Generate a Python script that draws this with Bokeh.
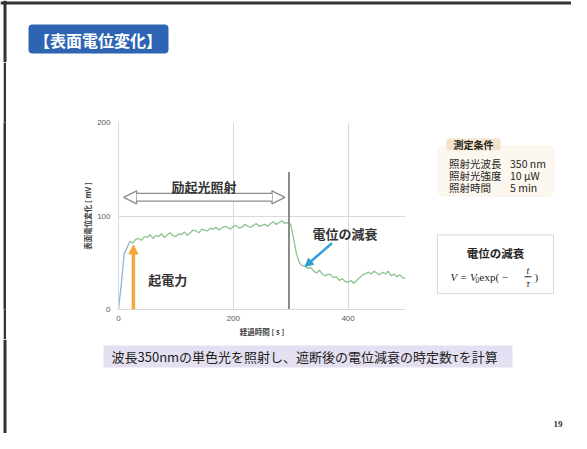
from bokeh.plotting import figure
from bokeh.layouts import column, row
from bokeh.models import Range1d, Label, BoxAnnotation, Arrow, NormalHead, FixedTicker
from bokeh.embed import file_html
from bokeh.resources import INLINE

# ---- data ----
time_s = list(range(0, 505, 5))
voltage_mv = [
    0, 28, 60, 66, 73, 71, 75, 76, 74, 78,
    77, 80, 76, 79, 78, 81, 77, 80, 82, 79,
    78, 81, 80, 83, 79, 82, 85, 84, 82, 86,
    85, 84, 87, 86, 88, 85, 87, 89, 88, 86,
    89, 90, 87, 88, 91, 89, 88, 90, 92, 89,
    90, 91, 89, 92, 94, 91, 93, 95, 92, 93,
    91, 76, 60, 50, 47, 46, 44, 45, 41, 39,
    42, 38, 36, 38, 37, 34, 35, 31, 33, 30,
    29, 31, 28, 31, 34, 37, 38, 40, 38, 41,
    39, 37, 40, 38, 41, 36, 38, 35, 37, 34,
    33,
]
x_ticks = [0, 200, 400]
y_ticks = [0, 100, 200]
light_off_s = 297
light_arrow_span = [9, 290]
light_arrow_level = 120
emf_arrow = [26, 0, 69]            # x, y_start, y_end
decay_arrow = [372, 71, 325, 46]   # x0, y0, x1, y1

title_text = "【表面電位変化】"
x_title = "経過時間 [ s ]"
y_title = "表面電位変化 [ mV ]"
cond_title = "測定条件"
cond_rows = [("照射光波長", "350 nm"), ("照射光強度", "10 μW"), ("照射時間", "5 min")]
formula_title = "電位の減衰"
banner_text = "波長350nmの単色光を照射し、遮断後の電位減衰の時定数τを計算"
page_no = "19"

JP = "Noto Sans CJK JP"
SERIF = "Liberation Serif"
TXT = "#262626"
FRAME_DARK = "#333333"

ROW_TOP, ROW_H = 62, 277
MB_TOP, MB_BOTTOM = 60, 29     # chart frame: page y 122..310


def bare_figure(w, h, fill="white", **kw):
    f = figure(width=w, height=h, x_axis_type=None, y_axis_type=None, output_backend="svg",
               toolbar_location=None, **kw)
    f.outline_line_color = None
    f.background_fill_color = fill
    f.border_fill_color = fill
    return f


class Panel:
    """A decoration figure whose frame spans page box (ox, fy0)-(ox+w, fy1)."""
    def __init__(self, ox, oy, w, h, mt=0, mb=0):
        self.ox = ox
        self.fy0 = oy + mt
        self.fh = h - mt - mb
        self.fig = bare_figure(w, h, x_range=Range1d(0, w), y_range=Range1d(0, self.fh),
                               min_border_left=0, min_border_right=0,
                               min_border_top=mt, min_border_bottom=mb)

    def box(self, l, t, r, b, **kw):
        kw.setdefault("fill_alpha", 1)
        kw.setdefault("line_color", None)
        self.fig.add_layout(BoxAnnotation(left=l - self.ox, right=r - self.ox,
                                          top=self.fh - (t - self.fy0), bottom=self.fh - (b - self.fy0), **kw))

    def text(self, x, y, s, **kw):
        kw.setdefault("text_baseline", "middle")
        kw.setdefault("text_color", TXT)
        self.fig.add_layout(Label(x=x - self.ox, y=self.fh - (y - self.fy0), text=s, **kw))


top = Panel(0, 0, 571, ROW_TOP)
top.box(0, 1, 571, 4, fill_color=FRAME_DARK)
top.box(3, 0, 6, ROW_TOP, fill_color=FRAME_DARK)
top.box(28, 24, 168, 53, fill_color="#2d65b3", border_radius=4)
top.text(97.5, 39, title_text, text_align="center", text_font=JP, text_font_size="16px",
         text_font_style="bold", text_color="white")

strip_white = bare_figure(3, ROW_H, min_border=0)
strip_dark = bare_figure(3, ROW_H, fill=FRAME_DARK, min_border=0)

right = Panel(412, ROW_TOP, 159, ROW_H, mt=MB_TOP, mb=MB_BOTTOM)
right.box(438, 146, 553, 196, fill_color="#fdf8ef", line_color="#efdfc3", line_width=1.2, border_radius=6)
right.box(446, 138, 500, 150, fill_color="#f3e3c8", border_radius=2)
right.text(473, 144, cond_title, text_align="center", text_font=JP, text_font_size="10px",
           text_font_style="bold")
for i, (k, v) in enumerate(cond_rows):
    yy = 163 + i * 12
    right.text(448.5, yy, k, text_font=JP, text_font_size="10.5px")
    right.text(509.5, yy, v, text_font=JP, text_font_size="10.5px")

right.box(437, 235, 553, 294, fill_color="white", line_color="#808080", line_width=1)
right.text(495, 253, formula_title, text_align="center", text_font=JP, text_font_size="11.5px",
           text_font_style="bold")
right.text(450, 277, "V = V", text_font=SERIF, text_font_size="11px", text_font_style="italic")
right.text(475, 280, "0", text_font=SERIF, text_font_size="7.5px", text_font_style="italic")
right.text(479, 277, "exp( −", text_font=SERIF, text_font_size="11px")
right.text(527.5, 270.5, "t", text_align="center", text_font=SERIF, text_font_size="10px", text_font_style="italic")
right.box(524, 276.5, 531, 277.5, fill_color=TXT)
right.text(527.5, 283.5, "τ", text_align="center", text_font=SERIF, text_font_size="10px", text_font_style="italic")
right.text(534, 277, ")", text_font=SERIF, text_font_size="11px")

bottom = Panel(0, ROW_TOP + ROW_H, 571, 433 - ROW_TOP - ROW_H)
bottom.box(3, 339, 6, 433, fill_color=FRAME_DARK)
bottom.box(103, 345, 512, 367, fill_color="#e5e0f1")
bottom.text(111, 356, banner_text, text_font=JP, text_font_size="13px", text_color="#222222")
bottom.text(557.5, 423, page_no, text_align="center", text_font=SERIF, text_font_size="9px",
            text_font_style="bold", text_color="#333333")

# ---------- the chart ----------
p = figure(width=406, height=ROW_H, x_range=Range1d(0, 500), y_range=Range1d(0, 200),
           output_backend="svg", toolbar_location=None,
           min_border_left=112, min_border_right=7, min_border_top=MB_TOP, min_border_bottom=MB_BOTTOM)
p.outline_line_color = None
p.background_fill_color = "white"
p.border_fill_color = "white"

p.xaxis.ticker = FixedTicker(ticks=x_ticks)
p.yaxis.ticker = FixedTicker(ticks=y_ticks)
for ax in (p.xaxis[0], p.yaxis[0]):
    ax.axis_line_color = "#d9d9d9"
    ax.major_tick_line_color = None
    ax.minor_tick_line_color = None
    ax.major_tick_in = 0
    ax.major_tick_out = 0
    ax.major_label_text_font_size = "8px"
    ax.major_label_text_color = "#595959"
    ax.axis_label_text_font = JP
    ax.axis_label_text_font_size = "7.5px"
    ax.axis_label_text_font_style = "bold"
    ax.axis_label_text_color = "#404040"
p.xaxis.axis_label = x_title
p.yaxis.axis_label = y_title
p.xaxis.major_label_standoff = 6
p.yaxis.major_label_standoff = 8
p.xaxis.axis_label_standoff = 2
p.yaxis.axis_label_standoff = 1
p.xgrid.grid_line_color = "#d9d9d9"
p.ygrid.grid_line_color = "#d9d9d9"

p.line(time_s[:5], voltage_mv[:5], line_color="#8db3d9", line_width=1.3)
p.line(time_s[4:], voltage_mv[4:], line_color="#90c290", line_width=1.3)

p.segment(x0=[light_off_s], y0=[-3], x1=[light_off_s], y1=[147], line_color="#7f7f7f", line_width=1.8)

ghost = dict(size=13, fill_alpha=0, line_alpha=0)
p.add_layout(Arrow(start=NormalHead(**ghost), end=NormalHead(**ghost),
                   x_start=light_arrow_span[0], y_start=light_arrow_level,
                   x_end=light_arrow_span[1], y_end=light_arrow_level,
                   line_width=9, line_color="#8c8c8c"))
head = dict(size=13, fill_color="white", line_color="#8c8c8c", line_width=1.3)
p.add_layout(Arrow(start=NormalHead(**head), end=NormalHead(**head),
                   x_start=light_arrow_span[0], y_start=light_arrow_level,
                   x_end=light_arrow_span[1], y_end=light_arrow_level,
                   line_width=6.4, line_color="white"))

p.add_layout(Arrow(end=NormalHead(size=9, fill_color="#f4a835", line_color="#f4a835"),
                   x_start=emf_arrow[0], y_start=emf_arrow[1], x_end=emf_arrow[0], y_end=emf_arrow[2],
                   line_color="#f4a835", line_width=3.5))
p.add_layout(Arrow(end=NormalHead(size=8, fill_color="#2c9fd4", line_color="#2c9fd4"),
                   x_start=decay_arrow[0], y_start=decay_arrow[1], x_end=decay_arrow[2], y_end=decay_arrow[3],
                   line_color="#2c9fd4", line_width=2.5))

p.add_layout(Label(x=149, y=132, text="励起光照射", text_align="center", text_baseline="middle",
                   text_font=JP, text_font_size="13px", text_font_style="bold", text_color="#333333"))
p.add_layout(Label(x=52, y=32, text="起電力", text_align="left", text_baseline="middle",
                   text_font=JP, text_font_size="13px", text_font_style="bold", text_color="#333333"))
p.add_layout(Label(x=338, y=81, text="電位の減衰", text_align="left", text_baseline="middle",
                   text_font=JP, text_font_size="13px", text_font_style="bold", text_color="#333333"))

layout = column(top.fig, row(strip_white, strip_dark, p, right.fig), bottom.fig)

open("out.html", "w").write(file_html(layout, INLINE))
